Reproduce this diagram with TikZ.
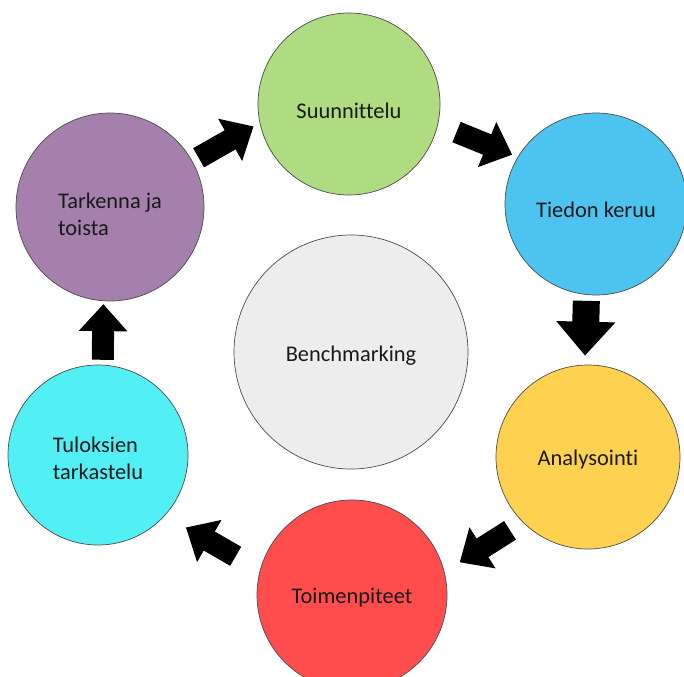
\documentclass[tikz,border=0pt]{standalone}
\usepackage{fontspec}
\setmainfont[Ligatures=NoCommon]{Carlito}
\usetikzlibrary{arrows.meta}
\definecolor{cSuun}{HTML}{AFDC80}
\definecolor{cTied}{HTML}{4DC4F0}
\definecolor{cAnal}{HTML}{FFD150}
\definecolor{cToim}{HTML}{FF4D4D}
\definecolor{cTulo}{HTML}{52F0F5}
\definecolor{cTark}{HTML}{A680AC}
\definecolor{cBench}{HTML}{EDEDED}
\begin{document}
\begin{tikzpicture}[x=1bp,y=-1bp,
  stage/.style={circle, draw=black!70, line width=0.7bp, inner sep=0pt},
  lbl/.style={align=left, text=black!90, inner sep=0pt, font=\fontsize{22.5}{27}\selectfont},
  blk/.style={line width=22bp, -{Triangle[width=47bp,length=27bp]}, draw=black},
  blkbig/.style={line width=27bp, -{Triangle[width=57bp,length=34bp]}, draw=black}]
\useasboundingbox (0,0) rectangle (684,677);
\begin{scope}
\clip (0,0) rectangle (684,677);
\node[stage, fill=cSuun, minimum size=182bp, label={[lbl, yshift=-7bp]center:Suunnittelu}] (suun) at (349,104) {};
\node[stage, fill=cTied, minimum size=182bp, label={[lbl, yshift=-6bp]center:Tiedon keruu}] (tied) at (596,204) {};
\node[stage, fill=cAnal, minimum size=184bp, label={[lbl, yshift=-3bp]center:Analysointi}] (anal) at (588,457) {};
\node[stage, fill=cToim, minimum size=190bp, label={[lbl, yshift=-3bp]center:Toimenpiteet}] (toim) at (352,595) {};
\node[stage, fill=cTulo, minimum size=180bp, label={[lbl, yshift=-3bp]center:{Tuloksien\\tarkastelu}}] (tulo) at (98,455) {};
\node[stage, fill=cTark, minimum size=188bp, label={[lbl, yshift=-7bp]center:{Tarkenna ja\\toista}}] (tark) at (110,207) {};
\node[stage, fill=cBench, minimum size=234bp, label={[lbl, yshift=-4bp]center:Benchmarking}] (bench) at (351,352) {};
\end{scope}
\draw[blk, shorten <=7bp, shorten >=7bp] (tark.29) -- (suun.192);
\draw[blk, shorten <=20bp, shorten >=6bp] (suun.-13) -- (tied.149);
\draw[blkbig, shorten <=6bp, shorten >=9bp] (tied.-96) -- (anal.92);
\draw[blk, shorten <=15bp, shorten >=18bp] (anal.225) -- (toim.14);
\draw[blk, shorten <=28bp, shorten >=24bp] (toim.165) -- (tulo.-42);
\draw[blk, shorten <=5bp, shorten >=3bp] (tulo.87) -- (tark.266);
\end{tikzpicture}
\end{document}
